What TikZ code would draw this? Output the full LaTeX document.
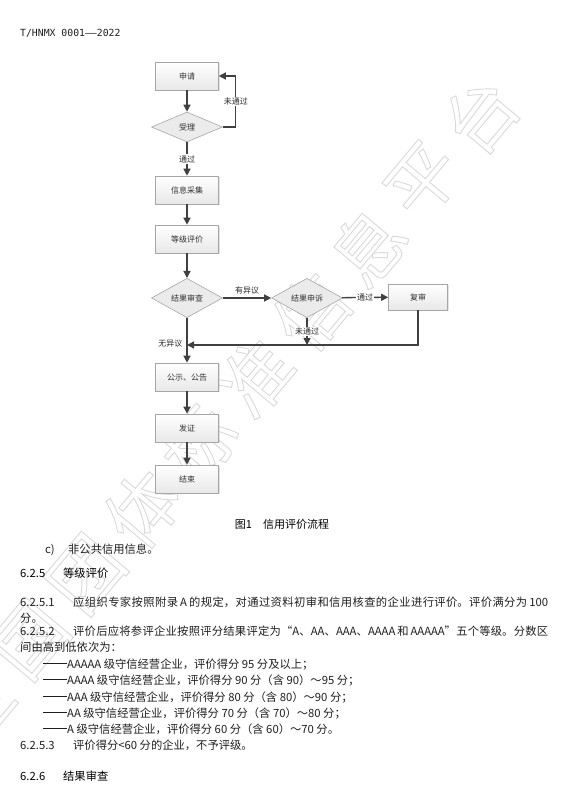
\documentclass[tikz,border=0pt]{standalone}
\usepackage{fontspec}
\setmainfont{Noto Sans CJK SC}
\newfontfamily\codefont{DejaVu Sans Mono}
\usepackage{xcolor}
\usepackage{tikz}
\usetikzlibrary{positioning, shapes.geometric, arrows.meta, shadows}

\XeTeXlinebreaklocale "zh"
\XeTeXlinebreakskip=0.7pt plus 3pt minus 0.7pt

\definecolor{boxline}{HTML}{A6A6A6}
\definecolor{arrowgray}{HTML}{404040}
\newcommand{\chartfont}{\fontsize{8pt}{9.5pt}\selectfont}
\newcommand{\bodyfont}{\fontsize{11.3pt}{16.3pt}\selectfont}
\newcommand{\listdash}{\rule[0.36em]{24pt}{0.5pt}}
\newcommand{\secno}[2]{\makebox[#1][l]{#2}}

\begin{document}
\begin{tikzpicture}[x=1pt, y=-1pt,
        box/.style={rectangle, draw=boxline, line width=0.6pt, top color=white, bottom color=black!9,
          minimum width=63pt, minimum height=28pt, inner sep=0pt, font=\chartfont, text=black!80,
          drop shadow={shadow xshift=1.2pt, shadow yshift=-1.2pt, opacity=0.3, fill=black!35}},
        decision/.style={diamond, draw=boxline, line width=0.6pt, fill=black!8,
          minimum width=71pt, minimum height=38pt, inner sep=0pt, font=\chartfont, text=black!80},
        flow/.style={draw=arrowgray, line width=1.3pt, -{Triangle[length=7pt, width=7pt]}},
        lbl/.style={font=\chartfont, fill=white, inner sep=1pt, text=black!85},
        tag/.style={font=\chartfont, inner sep=1pt, text=black!85},
        body/.style={anchor=base west, inner sep=0pt, font=\bodyfont, text=black!88},
        fullline/.style={body, text width=528pt, align=justify},
        wmark/.style={font=\fontsize{72pt}{72pt}\selectfont, text=black!15, rotate=50, inner sep=0pt}]
  \useasboundingbox[fill=white] (0,0) rectangle (570,794);

  % watermark, drawn as outlines
  \foreach \ch [count=\i from 0] in {全,国,团,体,标,准,信,息,平,台}
    \node[wmark] (wm\i) at ({30+(\i-1)*56.25}, {640-(\i-1)*65.6})
      {\special{pdf:literal direct 1 Tr 0.9 w}\ch\special{pdf:literal direct 0 Tr}};

  % flow chart
  \node[box] (apply) at (187,76) {申请};
  \node[decision, minimum height=30pt] (accept) at (187,127) {受理};
  \node[box] (collect) at (187,190) {信息采集};
  \node[box] (grade) at (187,239) {等级评价};
  \node[decision] (review) at (187,298) {结果审查};
  \node[decision] (appeal) at (307,298) {结果申诉};
  \node[box, minimum width=59pt, minimum height=26pt] (recheck) at (418,297) {复审};
  \node[box] (publish) at (187,377) {公示、公告};
  \node[box] (certify) at (187,428) {发证};
  \node[box] (finish) at (187,479) {结束};
  \coordinate (merge) at (187,345);

  \draw[flow] (apply) -- (accept);
  \draw[flow] (accept.east) -- ++(13,0) |- node[lbl, pos=0.25] {未通过} (apply.east);
  \draw[flow] (accept) -- node[lbl] {通过} (collect);
  \draw[flow] (collect) -- (grade);
  \draw[flow] (grade) -- (review);
  \draw[flow] (review) -- node[tag, above=2pt] {有异议} (appeal);
  \draw[flow] (appeal) -- node[lbl] {通过} (recheck);
  \draw[flow] (appeal.south) -- node[lbl] {未通过} (appeal.south |- merge);
  \draw[flow] (recheck.south) |- (merge);
  \draw[flow] (review) -- node[tag, left=3pt, pos=0.57] {无异议} (publish);
  \draw[flow] (publish) -- (certify);
  \draw[flow] (certify) -- (finish);

  % page text
  \node[body, font=\codefont\fontsize{9.8pt}{12pt}\selectfont] (header) at (20,37) {T/HNMX 0001——2022};
  \node[body, anchor=base, text=black, font=\fontsize{11pt}{13pt}\selectfont] (caption) at (282,528) {图1\hspace{11pt}信用评价流程};
  \node[body] (itemc) at (45,553) {\secno{23pt}{c)}非公共信用信息。};
  \node[body, text=black] (sec625) at (20,577) {\secno{43pt}{6.2.5}等级评价};
  \node[fullline] (p6251) at (20,606) {\parfillskip=0pt \secno{53pt}{6.2.5.1}应组织专家按照附录 A 的规定，对通过资料初审和信用核查的企业进行评价。评价满分为 100\par};
  \node[body] (p6251b) at (20,622) {分。};
  \node[fullline] (p6252) at (20,635) {\parfillskip=0pt \secno{53pt}{6.2.5.2}评价后应将参评企业按照评分结果评定为“A、AA、AAA、AAAA 和 AAAAA”五个等级。分数区\par};
  \node[body] (p6252b) at (20,651) {间由高到低依次为：};
  \node[body] (g5) at (43,668) {\listdash AAAAA 级守信经营企业，评价得分 95 分及以上；};
  \node[body] (g4) at (43,684) {\listdash AAAA 级守信经营企业，评价得分 90 分（含 90）～95 分；};
  \node[body] (g3) at (43,701) {\listdash AAA 级守信经营企业，评价得分 80 分（含 80）～90 分；};
  \node[body] (g2) at (43,717) {\listdash AA 级守信经营企业，评价得分 70 分（含 70）～80 分；};
  \node[body] (g1) at (43,733) {\listdash A 级守信经营企业，评价得分 60 分（含 60）～70 分。};
  \node[body] (p6253) at (20,749) {\secno{53pt}{6.2.5.3}评价得分<60 分的企业，不予评级。};
  \node[body, text=black] (sec626) at (20,780) {\secno{43pt}{6.2.6}结果审查};
\end{tikzpicture}
\end{document}
